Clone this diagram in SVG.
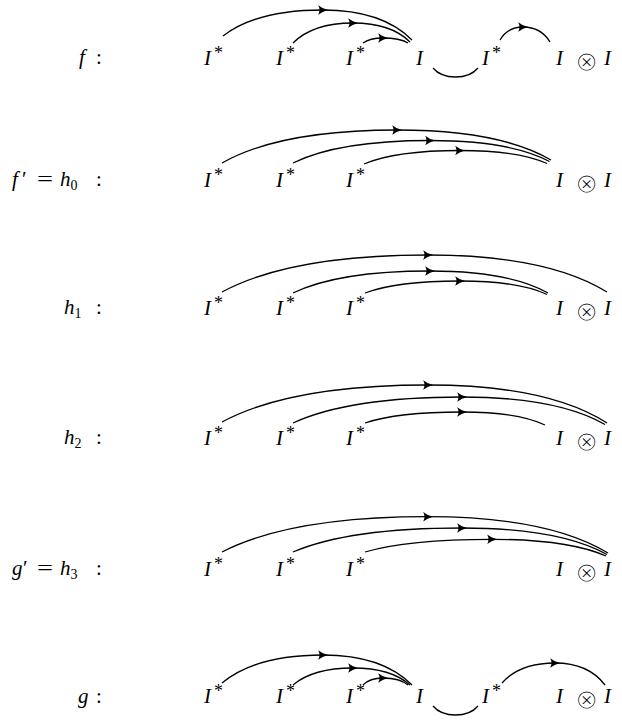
<svg xmlns="http://www.w3.org/2000/svg" width="622" height="721" viewBox="0 0 622 721">
<style>
.m{font-family:"Liberation Serif",serif;font-style:italic;font-size:21px;fill:#000}
.u{font-family:"Liberation Serif",serif;font-style:normal;font-size:21px;fill:#000}
.st{font-style:normal;font-size:18px}
.sb{font-style:normal;font-size:14px}
.ot{font-family:"DejaVu Sans",sans-serif;font-size:28px;fill:#000;stroke:#fff;stroke-width:1.2px}
.c{fill:none;stroke:#000;stroke-width:1.3}
.a{marker-mid:url(#ar)}
</style>
<defs>
<marker id="ar" viewBox="-6 -6 12 12" markerWidth="12" markerHeight="12" refX="0" refY="0" orient="auto" markerUnits="userSpaceOnUse">
<path d="M5 0 Q-0.7 -1.4 -4.8 -4.8 Q-2.2 0 -4.8 4.8 Q-0.7 1.4 5 0 Z" fill="#000"/>
</marker>
</defs>

<g id="labels">
<g id="lab-f"><text class="m" x="79" y="64">f</text><text class="u" x="96" y="64">:</text></g>
<g id="lab-h0"><text class="m" x="12" y="186">f</text><text class="u" x="22" y="186">′</text><text class="u" x="37" y="186" textLength="16" lengthAdjust="spacingAndGlyphs">=</text><text class="m" x="60" y="186">h<tspan class="sb" dy="4">0</tspan></text><text class="u" x="96" y="186">:</text></g>
<g id="lab-h1"><text class="m" x="64" y="314">h<tspan class="sb" dy="4">1</tspan></text><text class="u" x="96" y="314">:</text></g>
<g id="lab-h2"><text class="m" x="64" y="444">h<tspan class="sb" dy="4">2</tspan></text><text class="u" x="96" y="444">:</text></g>
<g id="lab-h3"><text class="m" x="12" y="575">g</text><text class="u" x="23" y="575">′</text><text class="u" x="37" y="575" textLength="16" lengthAdjust="spacingAndGlyphs">=</text><text class="m" x="60" y="575">h<tspan class="sb" dy="4">3</tspan></text><text class="u" x="96" y="575">:</text></g>
<g id="lab-g"><text class="m" x="78" y="703">g</text><text class="u" x="96" y="703">:</text></g>
</g>

<g id="row1">
<g id="r1-n1"><text class="m" x="204" y="65">I<tspan class="st" dx="3" dy="-6">*</tspan></text></g>
<g id="r1-n2"><text class="m" x="276" y="65">I<tspan class="st" dx="3" dy="-6">*</tspan></text></g>
<g id="r1-n3"><text class="m" x="346" y="65">I<tspan class="st" dx="3" dy="-6">*</tspan></text></g>
<g id="r1-n4"><text class="m" x="416" y="65">I</text></g>
<g id="r1-n5"><text class="m" x="482" y="65">I<tspan class="st" dx="3" dy="-6">*</tspan></text></g>
<g id="r1-n6"><text class="m" x="556" y="65">I</text></g>
<g id="r1-n7"><text class="ot" x="586.5" y="71" text-anchor="middle">⊗</text></g>
<g id="r1-n8"><text class="m" x="604" y="65">I</text></g>
</g>

<g id="row2">
<g id="r2-n1"><text class="m" x="204" y="187">I<tspan class="st" dx="3" dy="-6">*</tspan></text></g>
<g id="r2-n2"><text class="m" x="276" y="187">I<tspan class="st" dx="3" dy="-6">*</tspan></text></g>
<g id="r2-n3"><text class="m" x="346" y="187">I<tspan class="st" dx="3" dy="-6">*</tspan></text></g>
<g id="r2-n4"><text class="m" x="556" y="187">I</text></g>
<g id="r2-n5"><text class="ot" x="586.5" y="193" text-anchor="middle">⊗</text></g>
<g id="r2-n6"><text class="m" x="604" y="187">I</text></g>
</g>

<g id="row3">
<g id="r3-n1"><text class="m" x="204" y="315">I<tspan class="st" dx="3" dy="-6">*</tspan></text></g>
<g id="r3-n2"><text class="m" x="276" y="315">I<tspan class="st" dx="3" dy="-6">*</tspan></text></g>
<g id="r3-n3"><text class="m" x="346" y="315">I<tspan class="st" dx="3" dy="-6">*</tspan></text></g>
<g id="r3-n4"><text class="m" x="556" y="315">I</text></g>
<g id="r3-n5"><text class="ot" x="586.5" y="321" text-anchor="middle">⊗</text></g>
<g id="r3-n6"><text class="m" x="604" y="315">I</text></g>
</g>

<g id="row4">
<g id="r4-n1"><text class="m" x="204" y="445">I<tspan class="st" dx="3" dy="-6">*</tspan></text></g>
<g id="r4-n2"><text class="m" x="276" y="445">I<tspan class="st" dx="3" dy="-6">*</tspan></text></g>
<g id="r4-n3"><text class="m" x="346" y="445">I<tspan class="st" dx="3" dy="-6">*</tspan></text></g>
<g id="r4-n4"><text class="m" x="556" y="445">I</text></g>
<g id="r4-n5"><text class="ot" x="586.5" y="451" text-anchor="middle">⊗</text></g>
<g id="r4-n6"><text class="m" x="604" y="445">I</text></g>
</g>

<g id="row5">
<g id="r5-n1"><text class="m" x="204" y="576">I<tspan class="st" dx="3" dy="-6">*</tspan></text></g>
<g id="r5-n2"><text class="m" x="276" y="576">I<tspan class="st" dx="3" dy="-6">*</tspan></text></g>
<g id="r5-n3"><text class="m" x="346" y="576">I<tspan class="st" dx="3" dy="-6">*</tspan></text></g>
<g id="r5-n4"><text class="m" x="556" y="576">I</text></g>
<g id="r5-n5"><text class="ot" x="586.5" y="582" text-anchor="middle">⊗</text></g>
<g id="r5-n6"><text class="m" x="604" y="576">I</text></g>
</g>

<g id="row6">
<g id="r6-n1"><text class="m" x="204" y="703">I<tspan class="st" dx="3" dy="-6">*</tspan></text></g>
<g id="r6-n2"><text class="m" x="276" y="703">I<tspan class="st" dx="3" dy="-6">*</tspan></text></g>
<g id="r6-n3"><text class="m" x="346" y="703">I<tspan class="st" dx="3" dy="-6">*</tspan></text></g>
<g id="r6-n4"><text class="m" x="416" y="703">I</text></g>
<g id="r6-n5"><text class="m" x="482" y="703">I<tspan class="st" dx="3" dy="-6">*</tspan></text></g>
<g id="r6-n6"><text class="m" x="556" y="703">I</text></g>
<g id="r6-n7"><text class="ot" x="586.5" y="709" text-anchor="middle">⊗</text></g>
<g id="r6-n8"><text class="m" x="604" y="703">I</text></g>
</g>

<g id="connectors">
<path class="c a" d="M223 36 C243 20.4 273 10 323 10 C367.5 10 394.2 22 412 40"/>
<path class="c a" d="M293 43 C305 31 323 23 353 23 C381.5 23 398.6 30.6 410 42"/>
<path class="c a" d="M363 43 C367 40 373 38 383 38 C395.5 38 403 40 408 43"/>
<path class="c" d="M433 68 C443 80 468 80 478 68"/>
<path class="c a" d="M500 40 C504.6 32.2 511.5 27 523 27 C536.5 27 544.6 33 550 42"/>
<path class="c a" d="M222 163 C257 143.2 309.5 130 397 130 C474 130 520.2 142 551 160"/>
<path class="c a" d="M293 163 C320.4 149.5 361.5 140.5 430 140.5 C489.75 140.5 525.6 148.9 549.5 161.5"/>
<path class="c a" d="M364 164 C383.2 155.9 412 150.5 460 150.5 C503.5 150.5 529.6 155.7 547 163.5"/>
<path class="c a" d="M222 292 C263.2 269.8 325 255 428 255 C517.5 255 571.2 269.8 607 292"/>
<path class="c a" d="M293 293 C320.4 279.8 361.5 271 430 271 C489 271 524.4 279.8 548 293"/>
<path class="c a" d="M365 293 C384 285.8 412.5 281 460 281 C503.5 281 529.6 286.4 547 294.5"/>
<path class="c a" d="M222 422 C263.2 399.8 325 385 428 385 C517.5 385 571.2 400.2 607 423"/>
<path class="c a" d="M293 423 C326.8 407.4 377.5 397 462 397 C533.5 397 576.4 408 605 424.5"/>
<path class="c a" d="M365 423 C384.4 416.4 413.5 412 462 412 C503.5 412 528.4 417.2 545 425"/>
<path class="c a" d="M222 552 C263.2 530.8 325 516.7 428 516.7 C518 516.7 572 531.2 608 553"/>
<path class="c a" d="M293 552 C326.8 537.6 377.5 528 462 528 C534.5 528 578 538.6 607 554.5"/>
<path class="c a" d="M365 552 C390.4 544.4 428.5 539.3 492 539.3 C549 539.3 583.2 546 606 556"/>
<path class="c a" d="M222 683 C242.2 666.2 272.5 655 323 655 C367.5 655 394.2 667 412 685"/>
<path class="c a" d="M293 685 C305 674.8 323 668 353 668 C381.5 668 398.6 674.8 410 685"/>
<path class="c a" d="M363 685 C367 680.8 373 678 383 678 C395.5 678 403 680.8 408 685"/>
<path class="c" d="M433 706 C443 718 468 718 478 706"/>
<path class="c a" d="M502 683 C512.6 671 528.5 663 555 663 C580 663 595 671.8 605 685"/>
</g>
</svg>
